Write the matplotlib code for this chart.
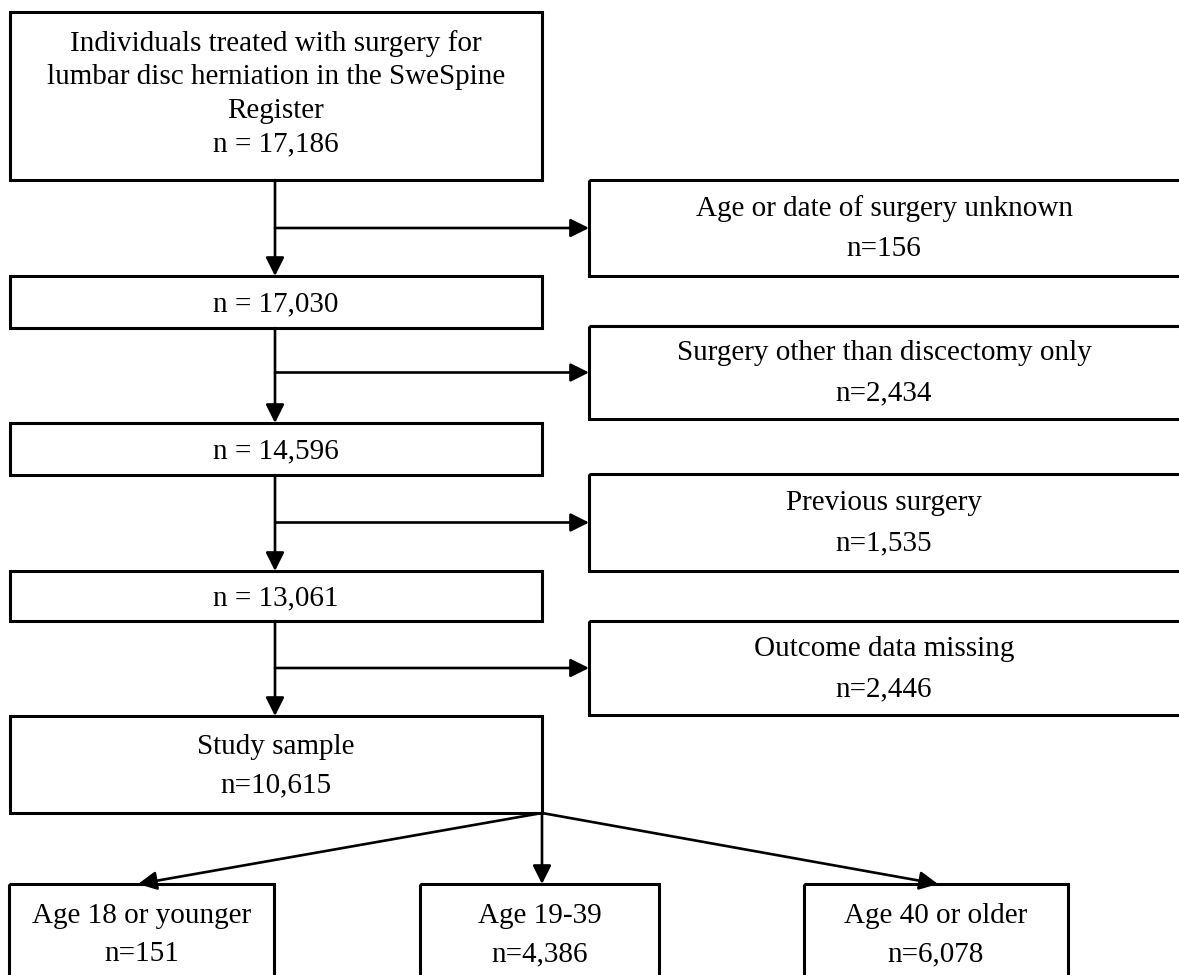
import matplotlib
matplotlib.use("Agg")
import matplotlib.pyplot as plt
from matplotlib.patches import Rectangle

plt.rcParams['font.family'] = ['Liberation Serif', 'DejaVu Serif']

# flowchart content
main_labels = [["Individuals treated with surgery for",
                "lumbar disc herniation in the SweSpine",
                "Register"],
               [], [], [], ["Study sample"]]
main_n = [17186, 17030, 14596, 13061, 10615]
excl_labels = ["Age or date of surgery unknown",
               "Surgery other than discectomy only",
               "Previous surgery",
               "Outcome data missing"]
excl_n = [156, 2434, 1535, 2446]
group_labels = ["Age 18 or younger", "Age 19-39", "Age 40 or older"]
group_n = [151, 4386, 6078]

# layout in pixels (y downwards)
W, H = 1179, 975
main_x = (10, 542)
main_y = [(12, 180), (276, 328), (423, 475), (571, 621), (716, 813)]
main_gap = [33.5, 0, 0, 0, 38]
excl_x = (589, 1195)
excl_y = [(180, 276), (326, 419), (474, 571), (621, 715)]
group_x = [(9, 274), (420, 659), (804, 1068)]
group_y = (884, 1000)
group_tip = [138, 542, 938]
stem_x = 275

fig = plt.figure(figsize=(W / 100, H / 100), dpi=100)
ax = fig.add_axes([0, 0, 1, 1])
ax.set_xlim(0, W)
ax.set_ylim(H, 0)
ax.axis('off')

FS = 21
BOX_LW = 2.2
LINE_LW = 1.9


def draw_box(x0, x1, y0, y1, lines, gap, yc=None):
    ax.add_patch(Rectangle((x0, y0), x1 - x0, y1 - y0, fill=False,
                           ec='black', lw=BOX_LW, clip_on=True))
    xc = (min(x1, W) + x0) / 2 if x1 > W else (x0 + x1) / 2
    if yc is None:
        yc = (y0 + y1) / 2
    n = len(lines)
    for i, t in enumerate(lines):
        y = yc + (i - (n - 1) / 2) * gap
        ax.text(xc, y, t, ha='center', va='center', fontsize=FS)


def arrow(x0, y0, x1, y1):
    ax.annotate('', xy=(x1, y1), xytext=(x0, y0),
                arrowprops=dict(arrowstyle='-|>', color='black', lw=LINE_LW,
                                mutation_scale=28, shrinkA=0, shrinkB=0))


# main column
for i, (lab, n) in enumerate(zip(main_labels, main_n)):
    y0, y1 = main_y[i]
    if i < 4:
        txt = lab + [f"n = {n:,}"]
    else:
        txt = lab + [f"n={n:,}"]
    yc = 94 if i == 0 else (y0 + y1) / 2 + 2
    draw_box(main_x[0], main_x[1], y0, y1, txt, main_gap[i], yc)

# exclusions
for i, (lab, n) in enumerate(zip(excl_labels, excl_n)):
    y0, y1 = excl_y[i]
    draw_box(excl_x[0], excl_x[1], y0, y1, [lab, f"n={n:,}"], 40,
             (y0 + y1) / 2 + 1)
    # vertical stem to next main box and branch to exclusion box
    arrow(stem_x, main_y[i][1], stem_x, main_y[i + 1][0])
    arrow(stem_x, (y0 + y1) / 2, excl_x[0], (y0 + y1) / 2)

# groups
split = (main_x[1], main_y[4][1])
for i, (lab, n) in enumerate(zip(group_labels, group_n)):
    x0, x1 = group_x[i]
    draw_box(x0, x1, group_y[0], group_y[1], [lab, f"n={n:,}"], 38, 935)
    arrow(split[0], split[1], group_tip[i], group_y[0])

fig.savefig("out.png", dpi=100, facecolor='white')
